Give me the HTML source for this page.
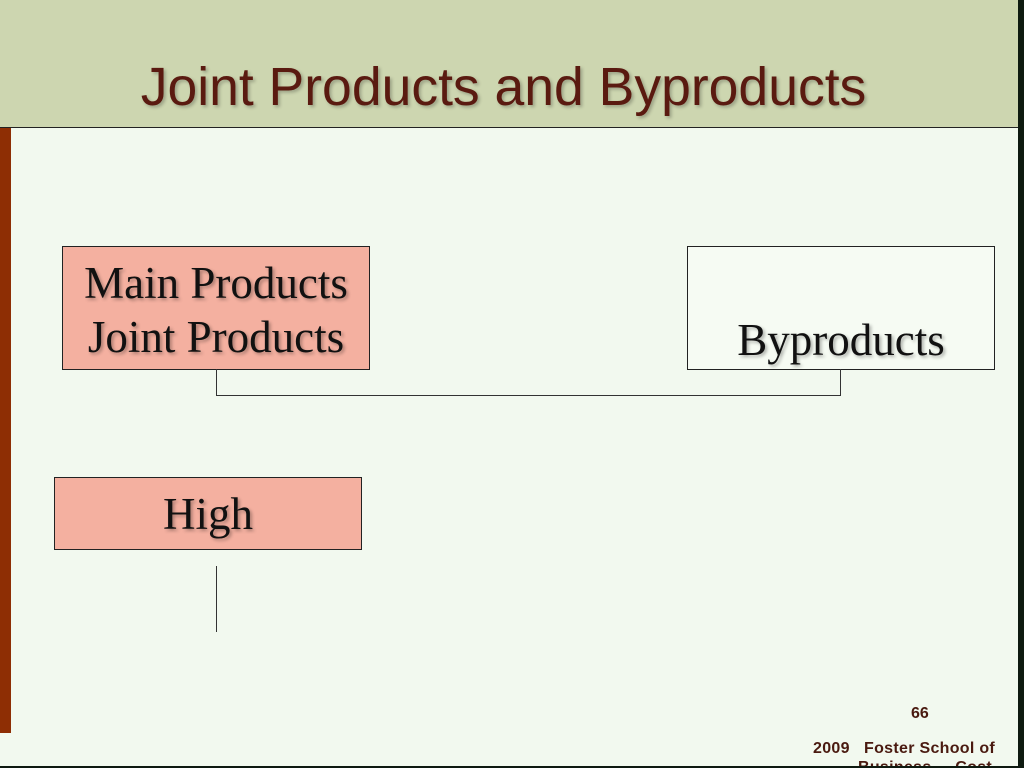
<!DOCTYPE html>
<html><head><meta charset="utf-8"><style>
html,body{margin:0;width:1024px;height:768px;overflow:hidden}
body{background:#f2f9ef;position:relative;font-family:"Liberation Serif",serif}
.a{position:absolute}
.box{position:absolute;border:1px solid #222;box-sizing:border-box;text-align:center;font-size:45px;color:#111;text-shadow:2px 2px 3px rgba(0,0,0,.3)}
.f{font-family:'Liberation Sans',sans-serif;font-weight:bold;font-size:16px;color:#4a1a10;white-space:nowrap}
</style></head><body>
<div class="a" style="left:0;top:0;width:1024px;height:127px;background:#cdd6b0;border-bottom:1px solid #222"></div>
<div class="a" style="left:0;top:57px;width:1007px;text-align:center;font-family:'Liberation Sans',sans-serif;font-size:53.5px;color:#5a1a10;text-shadow:2px 2px 3px rgba(0,0,0,.25)">Joint Products and Byproducts</div>
<div class="a" style="left:0;top:128px;width:11px;height:605px;background:#8e2e04"></div>
<div class="a" style="left:1018px;top:0;width:6px;height:768px;background:#0e1a10"></div>
<div class="box" style="left:62px;top:246px;width:308px;height:124px;background:#f4b0a0;line-height:54px;padding-top:9px">Main Products<br>Joint Products</div>
<div class="box" style="left:687px;top:246px;width:308px;height:124px;background:#f6fbf3;line-height:54px;padding-top:66px">Byproducts</div>
<div class="a" style="left:216px;top:369px;width:625px;height:27px;border:1px solid #333;border-top:none;box-sizing:border-box"></div>
<div class="box" style="left:54px;top:477px;width:308px;height:73px;background:#f4b0a0;line-height:72px">High</div>
<div class="a" style="left:216px;top:566px;width:1px;height:66px;background:#333"></div>
<div class="a f" style="left:911px;top:705px">66</div>
<div class="a f" style="left:813px;top:740px;letter-spacing:0.3px">2009&nbsp;&nbsp; Foster School of</div>
<div class="a f" style="left:858px;top:759px;letter-spacing:0.3px">Business&nbsp;&nbsp;&nbsp;&nbsp; Cost</div>
<div class="a" style="left:0;top:766px;width:1024px;height:2px;background:#0e1a10"></div>
</body></html>
